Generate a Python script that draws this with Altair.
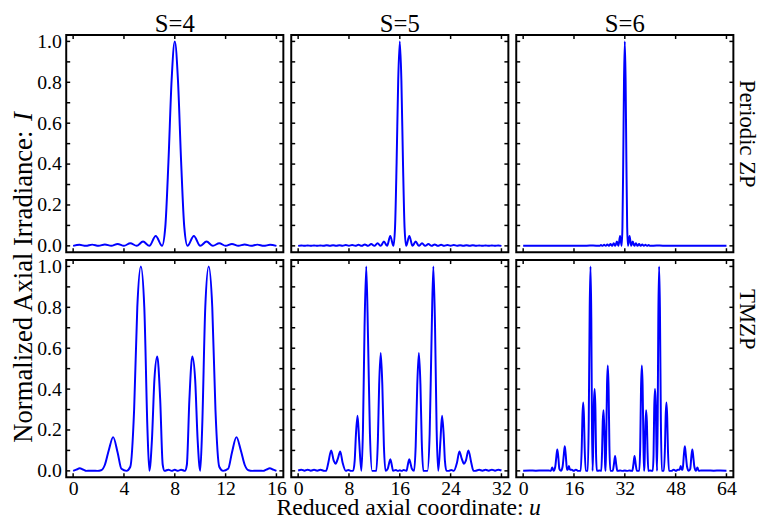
import altair as alt
import pandas as pd

FONT = "Liberation Serif"
BLUE = "#0000ff"

COL_TITLES = ["S=4", "S=5", "S=6"]
ROW_TITLES = ["Periodic ZP", "TMZP"]
X_MAX = [16, 32, 64]
X_TICKS = [[0, 4, 8, 12, 16], [0, 8, 16, 24, 32], [0, 16, 32, 48, 64]]
Y_TICKS = [0.0, 0.1, 0.2, 0.3, 0.4, 0.5, 0.6, 0.7, 0.8, 0.9, 1.0]
Y_LABELS = [0.0, 0.2, 0.4, 0.6, 0.8, 1.0]
Y_TITLE = "Normalized Axial Irradiance:"
Y_TITLE_VAR = "I"
X_TITLE = "Reduced axial coordinate:"
X_TITLE_VAR = "u"

# (u, I) pairs: periodic zone plates
PZP_S4 = [(0, 0), (0.5, 0.005), (1, 0), (1.5, 0.006), (2, 0), (2.5, 0.007), (3, 0), (3.5, 0.009),
          (4, 0), (4.5, 0.013), (5, 0), (5.5, 0.021), (6, 0), (6.5, 0.048), (7, 0), (7.25, 0.09),
          (7.5, 0.41), (7.75, 0.81), (8, 1.0), (8.25, 0.81), (8.5, 0.41), (8.75, 0.09), (9, 0),
          (9.5, 0.048), (10, 0), (10.5, 0.021), (11, 0), (11.5, 0.013), (12, 0), (12.5, 0.009),
          (13, 0), (13.5, 0.007), (14, 0), (14.5, 0.006), (15, 0), (15.5, 0.005), (16, 0)]

PZP_S5 = [(0, 0), (0.5, 0.002), (1, 0), (1.5, 0.002), (2, 0), (2.5, 0.002), (3, 0), (3.5, 0.002),
          (4, 0), (4.5, 0.003), (5, 0), (5.5, 0.003), (6, 0), (6.5, 0.003), (7, 0), (7.5, 0.004),
          (8, 0), (8.5, 0.004), (9, 0), (9.5, 0.005), (10, 0), (10.5, 0.007), (11, 0), (11.5, 0.009),
          (12, 0), (12.5, 0.013), (13, 0), (13.5, 0.021), (14, 0), (14.5, 0.048), (15, 0),
          (15.25, 0.09), (15.5, 0.41), (15.75, 0.81), (16, 1.0), (16.25, 0.81), (16.5, 0.41),
          (16.75, 0.09), (17, 0), (17.5, 0.048), (18, 0), (18.5, 0.021), (19, 0), (19.5, 0.013),
          (20, 0), (20.5, 0.009), (21, 0), (21.5, 0.007), (22, 0), (22.5, 0.005), (23, 0),
          (23.5, 0.004), (24, 0), (24.5, 0.004), (25, 0), (25.5, 0.003), (26, 0), (26.5, 0.003),
          (27, 0), (27.5, 0.003), (28, 0), (28.5, 0.002), (29, 0), (29.5, 0.002), (30, 0),
          (30.5, 0.002), (31, 0), (31.5, 0.002), (32, 0)]

PZP_S6 = [(0, 0.001), (4, 0.001), (8, 0.001), (12, 0.001), (16, 0.001), (20, 0.001), (22, 0.002),
          (24, 0), (24.5, 0.004), (25, 0), (25.5, 0.005), (26, 0), (26.5, 0.007), (27, 0),
          (27.5, 0.009), (28, 0), (28.5, 0.013), (29, 0), (29.5, 0.021), (30, 0), (30.5, 0.048),
          (31, 0), (31.25, 0.09), (31.5, 0.41), (31.75, 0.81), (32, 1.0), (32.25, 0.81),
          (32.5, 0.41), (32.75, 0.09), (33, 0), (33.5, 0.048), (34, 0), (34.5, 0.021), (35, 0),
          (35.5, 0.013), (36, 0), (36.5, 0.009), (37, 0), (37.5, 0.007), (38, 0), (38.5, 0.005),
          (39, 0), (39.5, 0.004), (40, 0), (42, 0.002), (44, 0.001), (48, 0.001), (52, 0.001),
          (56, 0.001), (60, 0.001), (64, 0.001)]

# (u, I) pairs: Thue-Morse zone plates
TM_S4 = [(0, 0.0), (0.25, 0.006), (0.52, 0.013), (0.8, 0.006), (1.05, 0.0), (1.3, 0.001),
         (1.6, 0.001), (1.9, 0.0), (2.2, 0.003), (2.5, 0.03), (2.8, 0.1), (3.15, 0.165),
         (3.5, 0.09), (3.8, 0.01), (4.2, 0.0), (4.5, 0.02), (4.8, 0.3), (5.05, 0.8), (5.33, 1.0),
         (5.6, 0.8), (5.85, 0.2), (6.0, 0.0), (6.2, 0.15), (6.4, 0.45), (6.62, 0.56), (6.85, 0.35),
         (7.05, 0.03), (7.2, 0.0), (7.5, 0.006), (7.75, 0.0), (8.0, 0.005), (8.25, 0.0),
         (8.5, 0.006), (8.8, 0.0), (8.95, 0.03), (9.15, 0.35), (9.38, 0.56), (9.6, 0.45),
         (9.8, 0.15), (10.0, 0.0), (10.15, 0.2), (10.4, 0.8), (10.67, 1.0), (10.95, 0.8),
         (11.2, 0.3), (11.5, 0.02), (11.8, 0.0), (12.2, 0.01), (12.5, 0.09), (12.85, 0.165),
         (13.2, 0.1), (13.5, 0.03), (13.8, 0.003), (14.1, 0.0), (14.4, 0.001), (14.7, 0.001),
         (14.95, 0.0), (15.2, 0.006), (15.48, 0.013), (15.75, 0.006), (16, 0.0)]

TM_S5 = [(0, 0.002), (0.5, 0.006), (1.0, 0.001), (1.5, 0.006), (2.0, 0.001), (2.5, 0.005),
         (3.0, 0.001), (3.5, 0.005), (4.0, 0.001), (4.4, 0.0), (4.75, 0.04), (5.2, 0.10),
         (5.6, 0.05), (5.9, 0.035), (6.25, 0.06), (6.62, 0.095), (7.0, 0.04), (7.5, 0.0),
         (7.9, 0.004), (8.3, 0.0), (8.65, 0.0), (8.9, 0.05), (9.1, 0.18), (9.35, 0.27), (9.6, 0.15),
         (9.95, 0.0), (10.2, 0.2), (10.45, 0.7), (10.72, 1.0), (11.0, 0.65), (11.3, 0.18),
         (11.65, 0.0), (12.3, 0.0), (12.55, 0.15), (12.75, 0.42), (13.0, 0.577), (13.25, 0.42),
         (13.5, 0.12), (13.75, 0.0), (14.1, 0.01), (14.3, 0.035), (14.5, 0.057), (14.7, 0.035),
         (14.95, 0.0), (15.4, 0.004), (15.7, 0.0), (16.0, 0.003),
         (16.3, 0.0), (16.6, 0.004), (17.05, 0.0), (17.3, 0.035), (17.5, 0.057), (17.7, 0.035),
         (17.9, 0.01), (18.25, 0.0), (18.5, 0.12), (18.75, 0.42), (19.0, 0.577), (19.25, 0.42),
         (19.45, 0.15), (19.7, 0.0), (20.35, 0.0), (20.7, 0.18), (21.0, 0.65), (21.28, 1.0),
         (21.55, 0.7), (21.8, 0.2), (22.05, 0.0), (22.4, 0.15), (22.65, 0.27), (22.9, 0.18),
         (23.1, 0.05), (23.35, 0.0), (23.7, 0.0), (24.1, 0.004), (24.5, 0.0), (25.0, 0.04),
         (25.38, 0.095), (25.75, 0.06), (26.1, 0.035), (26.4, 0.05), (26.8, 0.10), (27.25, 0.04),
         (27.6, 0.0), (28.0, 0.001), (28.5, 0.005), (29.0, 0.001), (29.5, 0.005), (30.0, 0.001),
         (30.5, 0.006), (31.0, 0.001), (31.5, 0.006), (32.0, 0.002)]

TM_S6 = [(0, 0.001), (2, 0.002), (4, 0.001), (6, 0.002), (8, 0.002), (8.7, 0.0), (9.15, 0.016),
         (9.6, 0.0), (10.1, 0.02), (10.45, 0.07), (10.75, 0.105), (11.05, 0.07), (11.4, 0.01),
         (11.9, 0.0), (12.4, 0.02), (12.8, 0.08), (13.1, 0.12), (13.4, 0.08), (13.8, 0.005),
         (14.05, 0.005), (14.4, 0.024), (14.75, 0.005), (15.3, 0.006), (15.9, 0.0), (16.6, 0.006),
         (17.3, 0.0), (18.1, 0.0), (18.45, 0.12), (18.65, 0.26), (18.9, 0.334), (19.15, 0.26),
         (19.35, 0.12), (19.7, 0.0), (20.35, 0.0), (20.65, 0.25), (20.95, 0.8), (21.2, 1.0),
         (21.45, 0.75), (21.65, 0.25), (21.85, 0.0), (22.05, 0.12), (22.25, 0.32), (22.5, 0.40),
         (22.75, 0.3), (22.95, 0.08), (23.2, 0.0), (24.0, 0.002), (24.6, 0.0), (24.85, 0.1),
         (25.05, 0.24), (25.3, 0.297), (25.55, 0.2), (25.8, 0.03), (25.95, 0.0), (26.15, 0.15),
         (26.4, 0.42), (26.65, 0.515), (26.9, 0.4), (27.15, 0.12), (27.45, 0.0), (28.2, 0.0),
         (28.55, 0.03), (28.94, 0.073), (29.3, 0.03), (29.65, 0.0), (30.5, 0.002), (31.2, 0.0),
         (32, 0.002),
         (32.8, 0.0), (33.5, 0.002), (34.35, 0.0), (34.7, 0.03), (35.06, 0.073), (35.45, 0.03),
         (35.8, 0.0), (36.55, 0.0), (36.85, 0.12), (37.1, 0.4), (37.35, 0.515), (37.6, 0.42),
         (37.85, 0.15), (38.05, 0.0), (38.2, 0.03), (38.45, 0.2), (38.7, 0.297), (38.95, 0.24),
         (39.15, 0.1), (39.4, 0.0), (40.0, 0.002), (40.8, 0.0), (41.05, 0.08), (41.25, 0.3),
         (41.5, 0.40), (41.75, 0.32), (41.95, 0.12), (42.15, 0.0), (42.35, 0.25), (42.55, 0.75),
         (42.8, 1.0), (43.05, 0.8), (43.35, 0.25), (43.65, 0.0), (44.3, 0.0), (44.65, 0.12),
         (44.85, 0.26), (45.1, 0.334), (45.35, 0.26), (45.55, 0.12), (45.9, 0.0), (46.7, 0.0),
         (47.4, 0.006), (48.1, 0.0), (48.7, 0.006), (49.25, 0.005), (49.6, 0.024), (49.95, 0.005),
         (50.2, 0.005), (50.6, 0.08), (50.9, 0.12), (51.2, 0.08), (51.6, 0.02), (52.1, 0.0),
         (52.6, 0.01), (52.95, 0.07), (53.25, 0.105), (53.55, 0.07), (53.9, 0.02), (54.4, 0.0),
         (54.85, 0.016), (55.3, 0.0), (56, 0.002), (58, 0.002), (60, 0.001), (62, 0.002),
         (64, 0.001)]

CURVES = [[PZP_S4, PZP_S5, PZP_S6], [TM_S4, TM_S5, TM_S6]]

W = 220
H = 220
TICK = 4
LABEL_SIZE = 20


def text_layer(text, x, y, size, angle=0, align="center", italic=False):
    return alt.Chart(pd.DataFrame({"t": [text]})).mark_text(
        font=FONT, fontSize=size, fontStyle="italic" if italic else "normal",
        angle=angle, align=align, baseline="alphabetic", color="black"
    ).encode(text="t:N", x=alt.value(x), y=alt.value(y))


def panel(row, col):
    xmax = X_MAX[col]
    xpad = xmax * 0.034
    xs = alt.Scale(domain=[-xpad, xmax + xpad], nice=False, zero=False)
    ys = alt.Scale(domain=[-0.031, 1.031], nice=False, zero=False)
    if row == 1:
        xaxis = alt.Axis(values=X_TICKS[col], format="d", ticks=False, tickSize=0, domain=False,
                         grid=False, labelPadding=2, labelFlush=False, title=None,
                         labelFont=FONT, labelFontSize=LABEL_SIZE, labelColor="black")
    else:
        xaxis = None
    if col == 0:
        yaxis = alt.Axis(values=Y_LABELS, format=".1f", ticks=False, tickSize=0, domain=False,
                         grid=False, labelPadding=5, title=None,
                         labelFont=FONT, labelFontSize=LABEL_SIZE, labelColor="black")
    else:
        yaxis = None

    def X():
        return alt.X("u:Q", scale=xs, axis=xaxis)

    def Y():
        return alt.Y("I:Q", scale=ys, axis=yaxis)

    df = pd.DataFrame(CURVES[row][col], columns=["u", "I"])
    yt = pd.DataFrame({"I": Y_TICKS})
    xt = pd.DataFrame({"u": X_TICKS[col]})
    rule = dict(color="black", strokeWidth=1.5)
    layers = [
        alt.Chart(yt).mark_rule(**rule).encode(y=Y(), x=alt.value(0), x2=alt.value(TICK)),
        alt.Chart(yt).mark_rule(**rule).encode(y=Y(), x=alt.value(W - TICK), x2=alt.value(W)),
        alt.Chart(xt).mark_rule(**rule).encode(x=X(), y=alt.value(H - TICK), y2=alt.value(H)),
        alt.Chart(xt).mark_rule(**rule).encode(x=X(), y=alt.value(0), y2=alt.value(TICK)),
        alt.Chart(df).mark_line(color=BLUE, strokeWidth=2, interpolate="monotone").encode(x=X(), y=Y()),
    ]
    if row == 0:
        layers.append(text_layer(COL_TITLES[col], W / 2, -3, 25))
    if col == 2:
        ty = 100 if row == 0 else 60
        layers.append(text_layer(ROW_TITLES[row], W + 7, ty, 23, angle=90))
    if row == 0 and col == 0:
        layers.append(text_layer(Y_TITLE, -35, 413, 27, angle=270, align="left"))
        layers.append(text_layer(Y_TITLE_VAR, -35, 87, 27, angle=270, align="left", italic=True))
    if row == 1 and col == 1:
        layers.append(text_layer(X_TITLE, -15, H + 38, 24, align="left"))
        layers.append(text_layer(X_TITLE_VAR, 241, H + 38, 24, align="left", italic=True))
    return alt.layer(*layers).properties(width=W, height=H)


panels = [panel(r, c) for r in range(2) for c in range(3)]

chart = alt.concat(*panels, columns=3, spacing=8, bounds="flush").properties(
    padding={"left": 0, "top": 0, "right": 2, "bottom": 2},
    background="white",
).configure_view(
    stroke="black", strokeWidth=2
).configure_axis(
    labelFont=FONT, labelFontSize=LABEL_SIZE, labelColor="black"
)

chart.save("out.html", embed_options={"renderer": "svg", "actions": False})
